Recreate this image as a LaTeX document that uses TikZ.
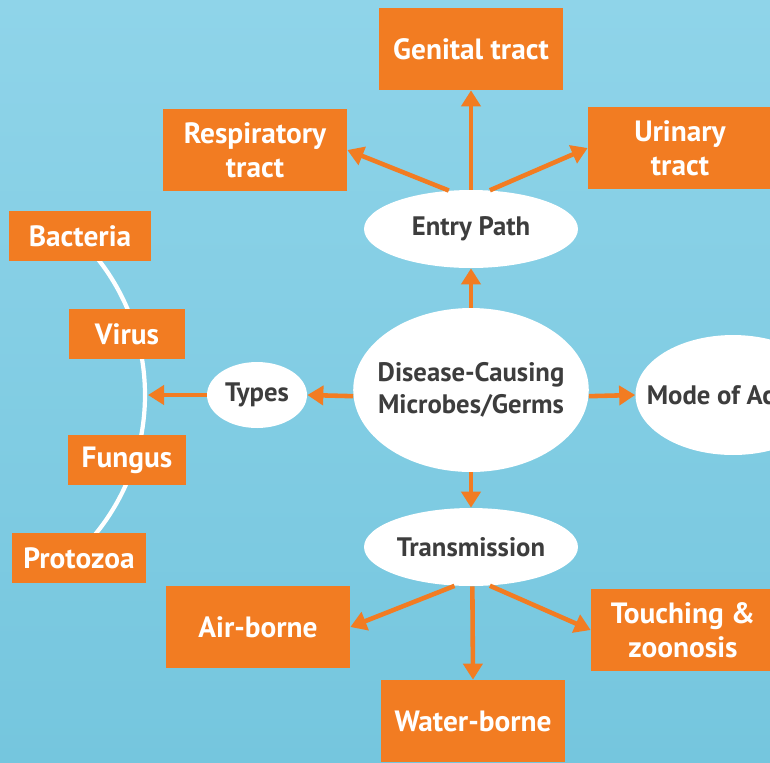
\documentclass[tikz,border=0pt]{standalone}
\usepackage{fontspec}
\setmainfont{PT Sans}
\usetikzlibrary{arrows.meta, shapes.geometric}

\begin{document}
\begin{tikzpicture}[x=0.02cm, y=-0.02cm, line join=round,
    >={Triangle[length=0.32cm, width=0.38cm]},
    box/.style={fill=boxorange, text=white, align=center, inner sep=0pt,
      font=\bfseries\fontsize{16.7}{19.5}\selectfont,
      minimum width=3.68cm, minimum height=1.64cm},
    tag/.style={fill=boxorange, text=white, inner sep=0pt,
      font=\bfseries\fontsize{16.7}{19.5}\selectfont, minimum height=1cm},
    hub/.style={ellipse, fill=white, text=hubtext, align=center, inner sep=0pt,
      font=\bfseries\fontsize{15.2}{18.5}\selectfont},
    link/.style={->, draw=boxorange, line width=2.6pt}]
    \definecolor{boxorange}{HTML}{F27C22}
    \definecolor{hubtext}{HTML}{3D3D3D}
    \definecolor{skytop}{HTML}{8FD4E9}
    \definecolor{skybottom}{HTML}{75C6DE}

    % --- frame and background
    \useasboundingbox (0,0) rectangle (770,762);
    \clip (0,0) rectangle (770,762);
    \shade[top color=skytop, bottom color=skybottom] (0,0) rectangle (770,762);

    % --- the white arc behind the kinds of microbe
    \coordinate (arccentre) at (-75,395);
    \coordinate (arcmid) at (148,395);
    \draw[white, line width=2.4pt] (arccentre) ++(-40:220) arc[start angle=-40, end angle=40, radius=220];

    % --- ellipses (negative xsep keeps the long labels inside a fixed width)
    \node[hub, inner xsep=-0.2cm, minimum width=4.68cm, minimum height=3.28cm] (germs) at (471,390) {Disease-Causing\\Microbes/Germs};
    \node[hub, minimum width=4.28cm, minimum height=1.56cm] (entry) at (471,229) {Entry Path};
    \node[hub, minimum width=4.28cm, minimum height=1.56cm] (transmission) at (471,547) {Transmission};
    \node[hub, minimum width=2.0cm, minimum height=1.32cm] (types) at (257,395) {Types};
    \node[hub, inner xsep=-0.46cm, minimum width=3.9cm, minimum height=2.4cm] (mode) at (733,395) {Mode of Action};

    % --- entry paths
    \node[box] (genital) at (471,49) {Genital tract};
    \node[box] (respiratory) at (255,150) {Respiratory\\tract};
    \node[box] (urinary) at (680,148) {Urinary\\tract};

    % --- ways of transmission
    \node[box] (airborne) at (258,627) {Air-borne};
    \node[box] (waterborne) at (473,721) {Water-borne};
    \node[box] (touching) at (683,630) {Touching \&\\zoonosis};

    % --- kinds of microbe
    \node[tag, minimum width=2.84cm] (bacteria) at (80,236) {Bacteria};
    \node[tag, minimum width=2.34cm] (virus) at (127,334) {Virus};
    \node[tag, minimum width=2.36cm] (fungus) at (127,460) {Fungus};
    \node[tag, minimum width=2.7cm] (protozoa) at (79,558) {Protozoa};

    % --- arrows
    \foreach \from/\to in {germs.north/entry.south, germs.south/transmission.north,
        germs.183/types.east, germs.-3/mode.west, types.west/arcmid,
        entry.north/genital.south, entry.120/respiratory.east, entry.64/urinary.west,
        transmission.247/airborne.east, transmission.272/waterborne.north,
        transmission.296/touching.west} {
      \draw[link] (\from) -- (\to);
    }
  \end{tikzpicture}
\end{document}
